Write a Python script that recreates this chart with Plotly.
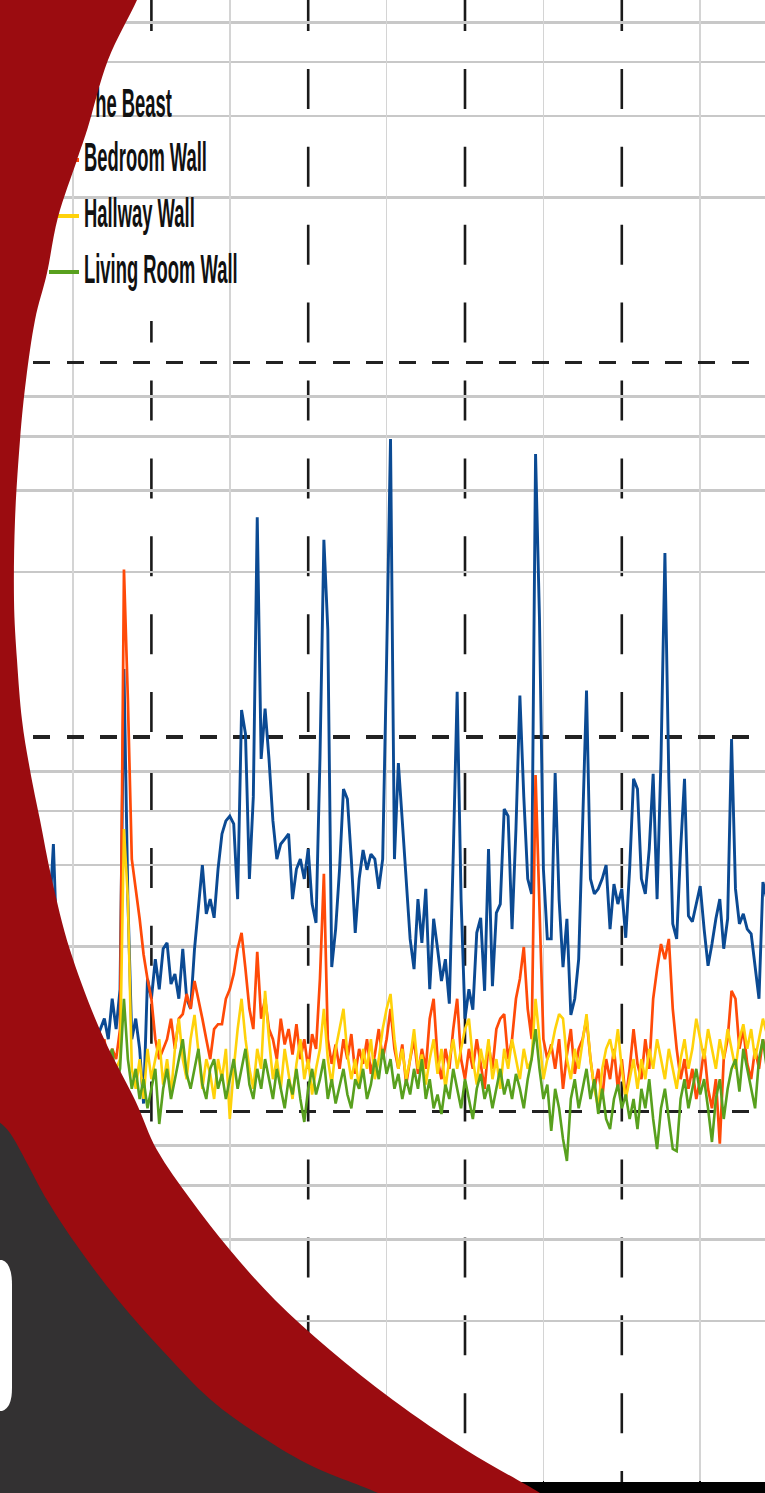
import numpy as np
import plotly.graph_objects as go

W, H = 765, 1493
PLOT_BOTTOM = 1486  # pixel row of the x axis (value 0.1)

# ---------------- data ----------------
hours = np.round(0.35 + 0.05 * np.arange(191), 2)

beast = [
    2.00, 2.12, 1.88, 2.26, 2.00, 2.55, 2.12, 3.27, 5.18, 2.55,
    2.00, 1.77, 2.12, 1.88, 1.56, 2.00, 1.66, 1.47, 1.77, 1.56,
    1.66, 1.77, 1.56, 2.00, 1.66, 2.12, 15.2, 3.69, 1.56, 1.77,
    1.47, 1.05, 2.26, 2.00, 2.55, 2.12, 2.72, 2.82, 2.19, 2.33,
    2.00, 2.72, 2.00, 1.88, 2.72, 3.58, 4.55, 3.37, 3.69, 3.29,
    4.44, 5.51, 5.97, 6.15, 5.86, 3.69, 11.8, 10.2, 4.18, 6.92,
    38.6, 8.74, 11.9, 8.74, 5.97, 4.72, 5.18, 5.34, 5.51, 3.69,
    4.44, 4.72, 4.18, 5.02, 3.58, 3.19, 8.74, 33.6, 19.4, 2.43,
    3.07, 4.44, 7.26, 6.83, 4.72, 3.00, 4.18, 4.99, 4.42, 4.87,
    4.72, 3.93, 4.72, 16.0, 62.5, 4.72, 8.52, 5.97, 4.18, 2.89,
    2.40, 3.69, 2.82, 3.93, 2.12, 3.27, 2.72, 2.23, 2.55, 1.94,
    4.84, 13.2, 3.69, 1.77, 2.12, 1.87, 3.00, 3.29, 2.10, 5.02,
    2.16, 3.39, 3.58, 6.42, 6.15, 3.07, 5.68, 12.9, 6.92, 4.18,
    3.81, 57.0, 20.7, 4.44, 2.89, 2.89, 8.01, 3.69, 2.43, 3.27,
    1.81, 2.00, 2.55, 5.68, 13.3, 4.18, 3.81, 3.93, 4.18, 4.55,
    3.07, 4.05, 3.58, 3.93, 2.91, 4.44, 7.73, 7.26, 4.18, 3.81,
    5.02, 7.97, 3.69, 8.74, 31.0, 7.73, 3.17, 2.89, 5.02, 7.73,
    3.33, 3.21, 3.58, 4.00, 3.07, 2.45, 2.80, 3.27, 3.69, 2.72,
    3.27, 9.88, 3.93, 3.17, 3.37, 3.07, 2.98, 2.45, 2.00, 4.10,
    3.69,
]

bedroom = [
    1.38, 1.30, 1.47, 1.22, 1.38, 1.30, 1.47, 1.34, 1.42, 1.26,
    1.38, 1.47, 1.30, 1.38, 1.22, 1.42, 1.34, 1.51, 1.30, 1.38,
    1.47, 1.56, 1.30, 1.47, 1.38, 1.66, 28.0, 12.6, 4.72, 3.93,
    3.27, 2.63, 2.26, 2.00, 1.56, 1.38, 1.47, 1.56, 1.77, 1.47,
    1.77, 1.82, 2.06, 1.88, 2.23, 2.00, 1.77, 1.56, 1.38, 1.66,
    1.71, 1.71, 2.00, 2.12, 2.33, 2.72, 3.00, 2.40, 1.88, 1.66,
    2.67, 1.77, 2.00, 1.66, 1.56, 1.38, 1.77, 1.51, 1.66, 1.42,
    1.71, 1.38, 1.56, 1.30, 1.61, 1.47, 2.26, 4.31, 1.56, 1.34,
    1.51, 1.30, 1.56, 1.38, 1.61, 1.26, 1.47, 1.34, 1.56, 1.26,
    1.42, 1.66, 1.38, 1.56, 1.88, 1.47, 1.30, 1.51, 1.18, 1.38,
    1.56, 1.26, 1.47, 1.30, 1.77, 2.00, 1.38, 1.22, 1.47, 1.30,
    1.66, 2.00, 1.38, 1.22, 1.47, 1.30, 1.56, 1.34, 1.15, 1.51,
    1.30, 1.66, 1.77, 1.82, 1.38, 1.56, 2.00, 2.26, 2.75, 1.88,
    1.56, 7.92, 3.69, 1.56, 1.38, 1.51, 1.30, 1.56, 1.15, 1.42,
    1.66, 1.26, 1.47, 1.56, 1.77, 1.38, 1.15, 1.30, 1.08, 1.38,
    1.22, 1.47, 1.15, 1.38, 1.08, 1.30, 1.66, 1.34, 1.22, 1.56,
    1.30, 2.00, 2.40, 2.80, 2.55, 2.89, 1.88, 1.47, 1.22, 1.38,
    1.15, 1.30, 1.08, 1.22, 1.47, 1.15, 1.02, 1.22, 0.82, 1.38,
    1.56, 2.10, 2.00, 1.47, 1.66, 1.34, 1.22, 1.47, 1.30, 1.56,
    1.38,
]

hallway = [
    1.30, 1.38, 1.22, 1.34, 1.26, 1.42, 1.22, 1.38, 1.30, 1.47,
    1.26, 1.34, 1.18, 1.38, 1.30, 1.47, 1.22, 1.34, 1.15, 1.38,
    1.26, 1.42, 1.22, 1.08, 1.30, 1.38, 5.68, 3.69, 1.30, 1.15,
    1.38, 1.08, 1.47, 1.22, 1.38, 1.56, 1.18, 1.38, 1.11, 1.47,
    1.77, 1.38, 1.22, 1.56, 1.81, 1.47, 1.15, 1.38, 1.26, 1.08,
    1.38, 1.22, 1.47, 0.955, 1.30, 1.66, 2.00, 1.56, 1.30, 1.15,
    1.47, 1.30, 2.10, 1.56, 1.22, 1.38, 1.15, 1.47, 1.26, 1.08,
    1.34, 1.56, 1.22, 1.38, 1.11, 1.30, 1.47, 1.88, 1.38, 1.18,
    1.47, 1.66, 1.88, 1.42, 1.22, 1.38, 1.15, 1.47, 1.30, 1.56,
    1.22, 1.38, 1.66, 1.88, 2.06, 1.56, 1.30, 1.47, 1.22, 1.38,
    1.66, 1.30, 1.42, 1.18, 1.38, 1.56, 1.26, 1.47, 1.15, 1.38,
    1.56, 1.30, 1.47, 1.66, 1.77, 1.38, 1.18, 1.47, 1.30, 1.56,
    1.22, 1.38, 1.15, 1.47, 1.30, 1.56, 1.38, 1.22, 1.47, 1.30,
    1.38, 2.00, 1.56, 1.22, 1.38, 1.47, 1.66, 1.82, 1.77, 1.38,
    1.22, 1.47, 1.30, 1.56, 1.82, 1.38, 1.15, 1.02, 1.30, 1.47,
    1.56, 1.38, 1.66, 1.30, 1.08, 1.22, 1.38, 1.15, 1.38, 1.22,
    1.47, 1.30, 1.56, 1.38, 1.22, 1.47, 1.30, 1.15, 1.38, 1.56,
    1.30, 1.47, 1.77, 1.56, 1.38, 1.66, 1.47, 1.30, 1.56, 1.38,
    1.66, 1.47, 1.30, 1.56, 1.71, 1.47, 1.66, 1.38, 1.56, 1.77,
    1.61,
]

living = [
    1.15, 1.08, 1.22, 1.02, 1.11, 1.18, 1.05, 1.15, 1.22, 1.08,
    1.02, 1.15, 1.26, 1.08, 1.18, 1.02, 1.11, 1.22, 1.08, 1.15,
    1.30, 1.22, 1.38, 1.47, 1.18, 1.30, 2.00, 1.38, 1.15, 1.30,
    1.08, 1.22, 1.02, 1.15, 1.30, 0.926, 1.15, 1.30, 1.08, 1.22,
    1.38, 1.56, 1.26, 1.15, 1.30, 1.47, 1.18, 1.08, 1.30, 1.38,
    1.15, 1.26, 1.08, 1.22, 1.38, 1.15, 1.30, 1.47, 1.18, 1.08,
    1.30, 1.15, 1.38, 1.22, 1.08, 1.30, 1.15, 1.02, 1.22, 1.11,
    1.30, 1.08, 0.938, 1.15, 1.30, 1.11, 1.22, 1.38, 1.08, 1.22,
    1.05, 1.18, 1.30, 1.11, 1.02, 1.22, 1.15, 1.30, 1.08, 1.18,
    1.38, 1.22, 1.47, 1.26, 1.38, 1.15, 1.26, 1.08, 1.22, 1.11,
    1.30, 1.15, 1.38, 1.08, 1.22, 1.02, 1.11, 0.985, 1.18, 1.08,
    1.30, 1.15, 1.02, 1.22, 1.08, 0.955, 1.15, 1.26, 1.08, 1.18,
    1.02, 1.15, 1.30, 1.11, 1.22, 1.08, 1.26, 1.15, 1.02, 1.22,
    1.38, 1.66, 1.30, 1.08, 1.18, 0.887, 1.15, 1.02, 0.845, 0.738,
    1.08, 1.22, 1.02, 1.15, 1.30, 1.08, 1.22, 0.985, 1.15, 0.955,
    0.898, 1.08, 1.18, 1.02, 1.11, 0.955, 1.08, 0.898, 1.15, 1.02,
    1.22, 0.955, 0.794, 1.02, 1.15, 0.955, 0.794, 0.784, 1.08, 1.22,
    1.02, 1.15, 1.30, 1.11, 1.22, 1.02, 0.829, 1.08, 1.22, 0.955,
    1.15, 1.30, 1.38, 1.13, 1.47, 1.30, 1.15, 1.02, 1.38, 1.56,
    1.30,
]

series_names = ["The Beast", "Bedroom Wall", "Hallway Wall", "Living Room Wall"]
series_values = [beast, bedroom, hallway, living]
series_colors = ["#0B4A93", "#FF4A08", "#FFD20A", "#58A01E"]
series_widths = [2.9, 2.7, 2.6, 2.6]

major_y = [1, 10, 100]                          # black dashed lines
minor_mult = [2.76, 4.55, 6.35, 8.1]            # light grey lines in each decade
minor_y = [m * 10 ** e for e in (-1, 0, 1, 2) for m in minor_mult]
grid_x = [1, 3, 5, 7, 9]                        # light grey verticals
dash_x = [2, 4, 6, 8]                           # black dashed verticals

# ---------------- helpers for decorative overlay ----------------
def paper(px, py):
    return px / W, (PLOT_BOTTOM - py) / PLOT_BOTTOM

def smooth(pts):
    out = []
    for i in range(len(pts) - 1):
        p0 = pts[i - 1] if i > 0 else pts[i]
        p1, p2 = pts[i], pts[i + 1]
        p3 = pts[i + 2] if i + 2 < len(pts) else pts[i + 1]
        c1 = (p1[0] + (p2[0] - p0[0]) / 6, p1[1] + (p2[1] - p0[1]) / 6)
        c2 = (p2[0] - (p3[0] - p1[0]) / 6, p2[1] - (p3[1] - p1[1]) / 6)
        a, b, c = paper(*c1), paper(*c2), paper(*p2)
        out.append(f"C {a[0]:.5f},{a[1]:.5f} {b[0]:.5f},{b[1]:.5f} {c[0]:.5f},{c[1]:.5f}")
    return " ".join(out)

def pt(px, py):
    x, y = paper(px, py)
    return f"{x:.5f},{y:.5f}"

red_edge = [(148, -30), (137, 0), (108, 60), (88, 127), (77, 160), (58, 217), (47, 273),
            (35, 320), (26, 380), (20, 440), (15, 520), (14, 600), (17, 660), (22, 720),
            (30, 770), (40, 820), (52, 880), (70, 950), (100, 1030), (135, 1100),
            (157, 1150), (191, 1200), (230, 1250), (275, 1300), (330, 1350), (393, 1400),
            (466, 1450), (540, 1493), (565, 1512)]
red_path = (f"M {pt(-20, -40)} L {pt(*red_edge[0])} " + smooth(red_edge) +
            f" L {pt(-20, 1520)} Z")

dark_edge = [(-10, 1118), (10, 1133), (47, 1200), (80, 1250), (118, 1300), (162, 1350),
             (211, 1400), (262, 1437), (314, 1467), (378, 1493), (405, 1510)]
dark_path = (f"M {pt(-20, 1110)} L {pt(*dark_edge[0])} " + smooth(dark_edge) +
             f" L {pt(-20, 1520)} Z")

white_path = (f"M {pt(-10, 1260)} L {pt(2, 1260)} Q {pt(12, 1263)} {pt(12, 1285)} "
              f"L {pt(12, 1388)} Q {pt(12, 1408)} {pt(2, 1411)} L {pt(-10, 1411)} Z")

# ---------------- figure ----------------
fig = go.Figure()

for name, vals, col, lw in zip(series_names, series_values, series_colors, series_widths):
    fig.add_trace(go.Scatter(x=hours, y=vals, mode="lines", name=name,
                             line=dict(color=col, width=lw), showlegend=False,
                             hoverinfo="skip"))

# legend drawn inside the plot (so the decorative arc can overlap it)
leg_y = [107, 160, 216, 272]
for name, col, yy in zip(series_names, series_colors, leg_y):
    fig.add_trace(go.Scatter(x=[49, 79], y=[yy, yy], mode="lines", xaxis="x2", yaxis="y2",
                             line=dict(color=col, width=4), showlegend=False,
                             hoverinfo="skip"))
fig.add_trace(go.Scatter(x=[84] * 4, y=[107, 161, 217, 273], mode="text", text=series_names,
                         textposition="middle right", xaxis="x2", yaxis="y2",
                         textfont=dict(family="Liberation Sans, Arial, sans-serif", size=40,
                                       color="#111111", weight="bold"),
                         showlegend=False, hoverinfo="skip"))

shapes = []
for xv in dash_x:
    shapes.append(dict(type="line", xref="x", yref="paper", x0=xv, x1=xv,
                       y0=(PLOT_BOTTOM + 9) / PLOT_BOTTOM, y1=0,
                       line=dict(color="#1a1a1a", width=2.6, dash="40px,37.9px"),
                       layer="between"))
bx0, by0 = paper(-10, 321)
bx1, by1 = paper(251, 65)
shapes.append(dict(type="rect", xref="paper", yref="paper", x0=bx0, x1=bx1, y0=by0, y1=by1,
                   fillcolor="white", line=dict(width=0), layer="between"))
# x axis baseline
shapes.append(dict(type="line", xref="paper", yref="paper", x0=-0.01, x1=1.01,
                   y0=paper(0, 1487.5)[1], y1=paper(0, 1487.5)[1],
                   line=dict(color="#000000", width=11), layer="above"))
shapes.append(dict(type="path", xref="paper", yref="paper", path=red_path,
                   fillcolor="#9B0C10", line=dict(width=0), layer="above"))
shapes.append(dict(type="path", xref="paper", yref="paper", path=dark_path,
                   fillcolor="#333132", line=dict(width=0), layer="above"))
shapes.append(dict(type="path", xref="paper", yref="paper", path=white_path,
                   fillcolor="#FFFFFF", line=dict(width=0), layer="above"))

x_lo = 1 - 73 / 78.4
x_hi = 1 + (765 - 73) / 78.4
fig.update_layout(
    width=W, height=H,
    margin=dict(l=0, r=0, t=0, b=H - PLOT_BOTTOM, pad=0),
    paper_bgcolor="white", plot_bgcolor="white",
    showlegend=False,
    shapes=shapes,
    xaxis=dict(range=[x_lo, x_hi], tickvals=grid_x, showgrid=True, gridcolor="#d4d4d4",
               gridwidth=1.5, griddash="solid", ticks="inside", ticklen=5, tickwidth=1.5,
               tickcolor="#111", showticklabels=False, zeroline=False, showline=False,
               fixedrange=True),
    yaxis=dict(type="log", range=[-1, -1 + PLOT_BOTTOM / 374.5], tickvals=major_y,
               showgrid=True, gridcolor="#222222", gridwidth=3.2, griddash="17px,16.25px",
               minor=dict(tickvals=minor_y, showgrid=True, gridcolor="#c8c8c8",
                          gridwidth=2.6, griddash="solid", ticks=""),
               showticklabels=False, ticks="", zeroline=False, showline=False,
               fixedrange=True),
    xaxis2=dict(overlaying="x", anchor="y2", range=[0, W], visible=False, fixedrange=True),
    yaxis2=dict(overlaying="y", anchor="x2", range=[PLOT_BOTTOM, 0], visible=False,
                fixedrange=True),
)

post = """
document.body.style.margin = '0';
var gd = document.getElementById('{plot_id}');
function squeeze() {
  gd.querySelectorAll('.scatterlayer .textpoint text').forEach(function (t) {
    t.style.transformBox = 'fill-box';
    t.style.transformOrigin = '0% 50%';
    t.style.transform = 'scaleX(0.46)';
  });
}
squeeze();
gd.on('plotly_afterplot', squeeze);
"""

fig.write_html("out.html", config={"displayModeBar": False, "staticPlot": True},
               post_script=post)
